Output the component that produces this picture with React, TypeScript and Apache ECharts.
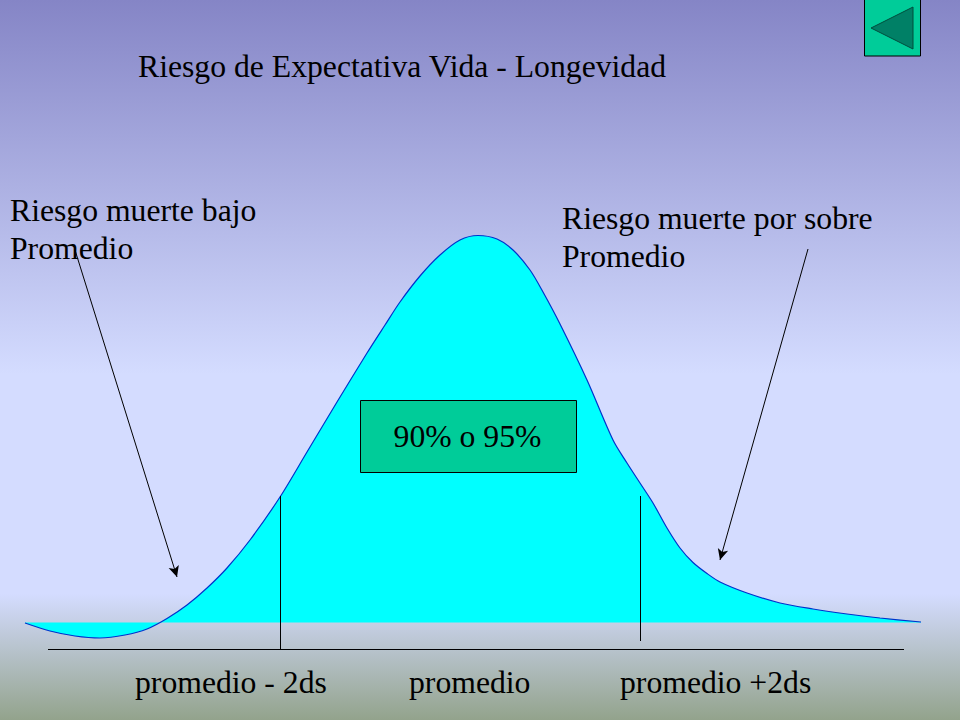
import React, { useEffect, useRef } from "react";
import * as echarts from "echarts";

const curveX = [25, 50, 75, 100, 125, 147, 167, 187, 207, 227, 250, 280, 307, 337, 367, 385, 400, 420, 440, 460, 478, 497, 513, 530, 543, 560, 587, 613, 627, 640, 653, 667, 680, 693, 707, 720, 747, 780, 813, 847, 880, 921];
const curveHeight = [-0.5, -8.5, -13.5, -15.5, -12.5, -6.5, 4, 17.5, 34.5, 54.5, 82.5, 125.5, 170.5, 220.5, 269.5, 297.5, 320.5, 346.5, 367.5, 382.5, 387, 383.5, 372.5, 352.5, 330.5, 298.5, 242.5, 182.5, 159.5, 139.5, 119.5, 94.5, 74.5, 60, 49, 40.5, 29.5, 19.5, 13.5, 8.5, 4.5, 0.5];

const titleText = "Riesgo de Expectativa Vida - Longevidad";
const leftNote = ["Riesgo muerte bajo", "Promedio"];
const rightNote = ["Riesgo muerte por sobre", "Promedio"];
const boxText = "90% o 95%";
const tickLabels = ["promedio - 2ds", "promedio", "promedio +2ds"];

const serif = "'Liberation Serif', 'Times New Roman', serif";
const BASE = 622.5;
const h = (py: number) => BASE - py;

const seg = (a: number[], b: number[], arrow = false) => [
  { coord: [a[0], h(a[1])], symbol: "none" },
  { coord: [b[0], h(b[1])], symbol: arrow ? "arrow" : "none", symbolSize: arrow ? [8, 11] : 0 },
];

export default function App() {
  const ref = useRef<HTMLDivElement>(null);
  useEffect(() => {
    document.body.style.margin = "0";
    const chart = echarts.init(ref.current!, undefined, { renderer: "svg" });
    const txt = (text: string, x: number, y: number, align = "left", z = 20) => ({
      type: "text", x, y, z,
      style: { text, x: 0, y: 0, fill: "#000", font: `31.7px ${serif}`, textAlign: align, textVerticalAlign: "middle" },
    });
    chart.setOption({
      animation: false,
      backgroundColor: {
        type: "linear", x: 0, y: 0, x2: 0, y2: 1,
        colorStops: [
          { offset: 0, color: "#8585c6" },
          { offset: 0.52, color: "#d4dcff" },
          { offset: 0.825, color: "#d4dcff" },
          { offset: 1, color: "#93a38c" },
        ],
      },
      grid: { left: 0, right: 0, top: 0, bottom: 0 },
      xAxis: { type: "value", min: 0, max: 960, show: false },
      yAxis: { type: "value", min: BASE - 720, max: BASE, show: false },
      series: [
        {
          type: "line",
          smooth: 0.3,
          symbol: "none",
          data: curveX.map((x, i) => [x, curveHeight[i]]),
          lineStyle: { color: "#0033cc", width: 1.2 },
          areaStyle: { color: "#00ffff", origin: 0, opacity: 1 },
          markLine: {
            silent: true,
            animation: false,
            label: { show: false },
            emphasis: { disabled: true },
            lineStyle: { color: "#000", width: 1, type: "solid" },
            data: [
              seg([48, 649], [904, 649]),
              seg([280.5, 496], [280.5, 649]),
              seg([640.5, 496], [640.5, 641]),
              seg([75, 250], [177, 577], true),
              seg([808, 249], [720, 560], true),
            ],
          },
        },
      ],
      graphic: [
        { type: "rect", z: 10, shape: { x: 360.5, y: 400.5, width: 216, height: 72 }, style: { fill: "#00cc99", stroke: "#000", lineWidth: 1 } },
        { type: "rect", z: 10, shape: { x: 864.5, y: -1, width: 56, height: 57 }, style: { fill: "#00cc99", stroke: "#000", lineWidth: 1 } },
        { type: "polygon", z: 11, shape: { points: [[871, 28], [913, 7], [913, 49]] }, style: { fill: "#008066", stroke: "#004d3d", lineWidth: 1 } },
        txt(titleText, 138, 66),
        txt(leftNote[0], 10, 210),
        txt(leftNote[1], 10, 248),
        txt(rightNote[0], 562, 218),
        txt(rightNote[1], 562, 256),
        txt(boxText, 467.5, 436, "center"),
        txt(tickLabels[0], 135, 682),
        txt(tickLabels[1], 409, 682),
        txt(tickLabels[2], 620, 682),
      ],
    });
    return () => chart.dispose();
  }, []);
  return <div ref={ref} style={{ width: 960, height: 720 }} />;
}
